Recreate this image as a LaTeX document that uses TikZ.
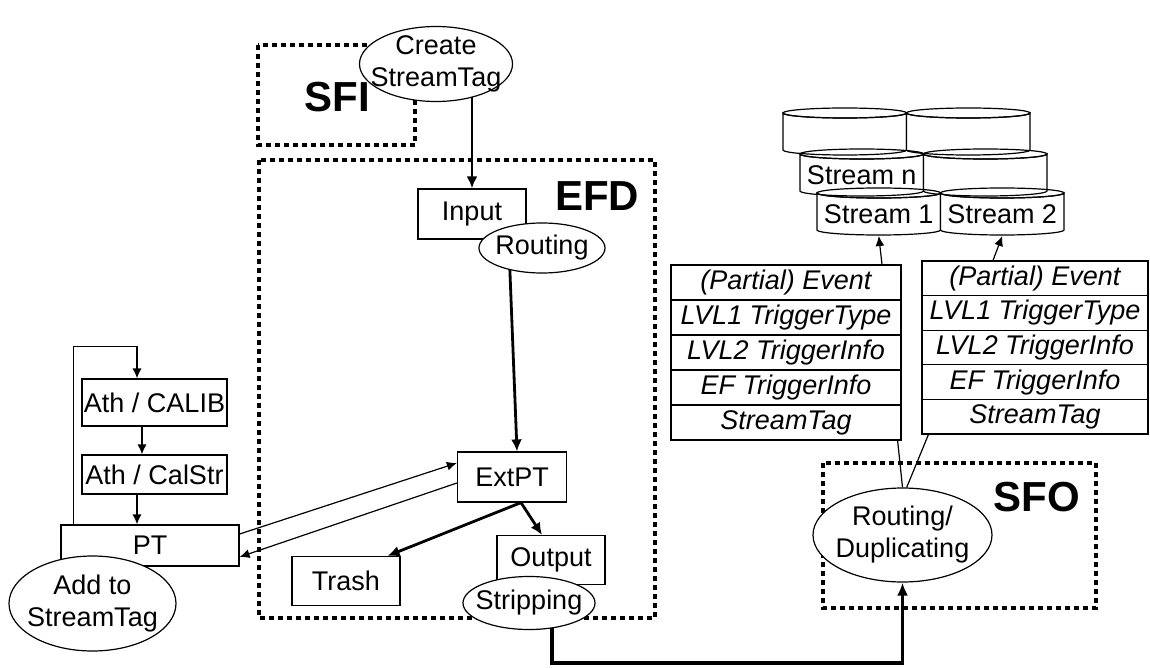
\documentclass[tikz,border=0pt]{standalone}
\usepackage{fontspec}
\setmainfont{Liberation Sans}
\usetikzlibrary{shapes.geometric,arrows.meta,calc,backgrounds}

% database cylinder: #1 left x, #2 top y, #3 name, #4 text
\newcommand\dbcan[4]{%
  \draw[wire,fill=white] (#1,#2+5) -- (#1,#2+42)
    arc[start angle=180,end angle=0,x radius=61.75,y radius=5]
    -- (#1+123.5,#2+5)
    arc[start angle=0,end angle=180,x radius=61.75,y radius=5] -- cycle;
  \draw[wire] (#1+61.75,#2+5) ellipse[x radius=61.75,y radius=5];
  \node[txt] (#3) at (#1+61.75,#2+26) {#4};
  \coordinate (#3-b) at (#1+61.75,#2+48);
}

\begin{document}
\begin{tikzpicture}[x=0.5pt,y=-0.5pt,
  every node/.style={font=\fontsize{13.5}{16}\selectfont},
  wire/.style={line width=0.6pt},
  box/.style={draw,fill=white,line width=0.6pt,inner sep=0pt},
  oval/.style={draw,fill=white,ellipse,line width=0.6pt,inner sep=0pt},
  txt/.style={align=center,inner sep=0pt,font=\fontsize{13.5}{16}\selectfont},
  rowbox/.style={box,font=\fontsize{13.5}{16}\selectfont\itshape},
  grp/.style={line width=2.4pt,dash pattern=on 2.3pt off 2.2pt},
  grouptag/.style={font=\fontsize{21}{25}\selectfont\bfseries,inner sep=0pt},
  thinarrow/.style={line width=0.6pt,-{Latex[length=5pt,width=4.5pt]}},
  boldarrow/.style={line width=1.4pt,-{Latex[length=6pt,width=5.5pt]}},
  heavyarrow/.style={line width=1.8pt,-{Latex[length=6.5pt,width=5.5pt]}}]

\useasboundingbox (0,0) rectangle (1150,668);

% SFI / EFD nodes
\node[oval,minimum width=76.5pt,minimum height=37.5pt,
      label={[txt]center:Create\\StreamTag}] (cst) at (436,64) {};
\node[grouptag] (sfi) at (337,97) {SFI};
\node[grouptag] (efd) at (597,196) {EFD};
\node[box,minimum width=54pt,minimum height=25pt] (inp) at (472,214) {Input};
\node[oval,minimum width=63pt,minimum height=25pt,
      label={[txt]center:Routing}] (rout) at (542,248) {};
\node[box,minimum width=54.5pt,minimum height=25pt] (ext) at (512,477) {ExtPT};
\node[box,minimum width=54pt,minimum height=24.5pt] (out) at (551,560) {Output};
\node[oval,minimum width=66pt,minimum height=26.5pt,
      label={[txt]center:Stripping}] (strip) at (529,603) {};
\node[box,minimum width=54pt,minimum height=24.5pt] (trash) at (346,581) {Trash};

% processing task chain
\node[box,minimum width=72.5pt,minimum height=23.5pt] (calib) at (154.5,402.5) {Ath / CALIB};
\node[box,minimum width=72.5pt,minimum height=19.5pt] (calstr) at (154.5,474.5) {Ath / CalStr};
\node[box,minimum width=89pt,minimum height=20.5pt] (pt) at (150,545.5) {PT};
\node[oval,minimum width=83.5pt,minimum height=47.5pt,
      label={[txt]center:Add to\\StreamTag}] (add) at (92.5,603.5) {};

% SFO
\node[oval,minimum width=89.5pt,minimum height=47pt,
      label={[txt]center:Routing/\\Duplicating}] (rd) at (902.5,535) {};
\node[grouptag] (sfo) at (1037,497) {SFO};

% event records
\node[rowbox,minimum width=115pt,minimum height=17.5pt] (lt1) at (786,282.5) {(Partial) Event};
\node[rowbox,minimum width=115pt,minimum height=17.5pt] (lt2) at (786,317.5) {LVL1 TriggerType};
\node[rowbox,minimum width=115pt,minimum height=17.5pt] (lt3) at (786,352.5) {LVL2 TriggerInfo};
\node[rowbox,minimum width=115pt,minimum height=17.5pt] (lt4) at (786,387.5) {EF TriggerInfo};
\node[rowbox,minimum width=115pt,minimum height=17.5pt] (lt5) at (786,422.5) {StreamTag};

\node[rowbox,minimum width=113pt,minimum height=17.3pt] (rt1) at (1035,278.3) {(Partial) Event};
\node[rowbox,minimum width=113pt,minimum height=17.3pt] (rt2) at (1035,312.9) {LVL1 TriggerType};
\node[rowbox,minimum width=113pt,minimum height=17.3pt] (rt3) at (1035,347.5) {LVL2 TriggerInfo};
\node[rowbox,minimum width=113pt,minimum height=17.3pt] (rt4) at (1035,382.1) {EF TriggerInfo};
\node[rowbox,minimum width=113pt,minimum height=17.3pt] (rt5) at (1035,416.7) {StreamTag};

% output streams
\dbcan{783}{108}{cb1}{}
\dbcan{906.5}{108}{cb2}{}
\dbcan{800}{149}{sn}{Stream n}
\dbcan{923.5}{149}{cm2}{}
\dbcan{817}{188}{s1}{Stream 1}
\dbcan{940.5}{188}{s2}{Stream 2}

\begin{pgfonlayer}{background}
  \draw[grp] (258,45) rectangle (415,145);
  \draw[grp] (259,160) rectangle (655,618);
  \draw[grp] (823,463) rectangle (1096,608);

  \draw[boldarrow] (inp.north |- cst.center) -- (inp.north);
  \draw[boldarrow] ($(rout.center)+(-33,0)$) -- ($(ext.north)+(5,0)$);
  \coordinate (split) at ($(ext.south)+(9,0)$);
  \draw[boldarrow] (split) -- ($(trash.north east)+(-13,0)$);
  \draw[boldarrow] (split) -- ($(out.north)+(-9,0)$);

  \draw[thinarrow] ($(pt.east)+(0,-11.5)$) -- ($(ext.west)+(0,-14)$);
  \draw[thinarrow] ($(ext.west)+(0,6)$) -- ($(pt.east)+(0,11.5)$);
  \draw[thinarrow] ($(pt.north west)+(13,0)$) -- ++(0,-178) -| ($(calib.north)+(-17.5,0)$);
  \draw[thinarrow] ($(calib.south)+(-12.5,0)$) -- ($(calstr.north)+(-12.5,0)$);
  \draw[thinarrow] ($(calstr.south)+(-17.5,0)$) -- ($(pt.north)+(-13,0)$);

  \draw[heavyarrow] ($(strip.center)+(23,0)$) -- ++(0,60) -| (rd.south);

  \draw[wire] ($(lt5.south east)+(-4,0)$) -- (rd.north);
  \draw[wire] ($(rt5.south west)+(7,0)$) -- (rd.85);
  \draw[thinarrow] ($(lt1.north)+(96,0)$) -- (s1-b);
  \draw[thinarrow] ($(rt1.north)+(-42,0)$) -- (s2-b);
\end{pgfonlayer}
\end{tikzpicture}
\end{document}
